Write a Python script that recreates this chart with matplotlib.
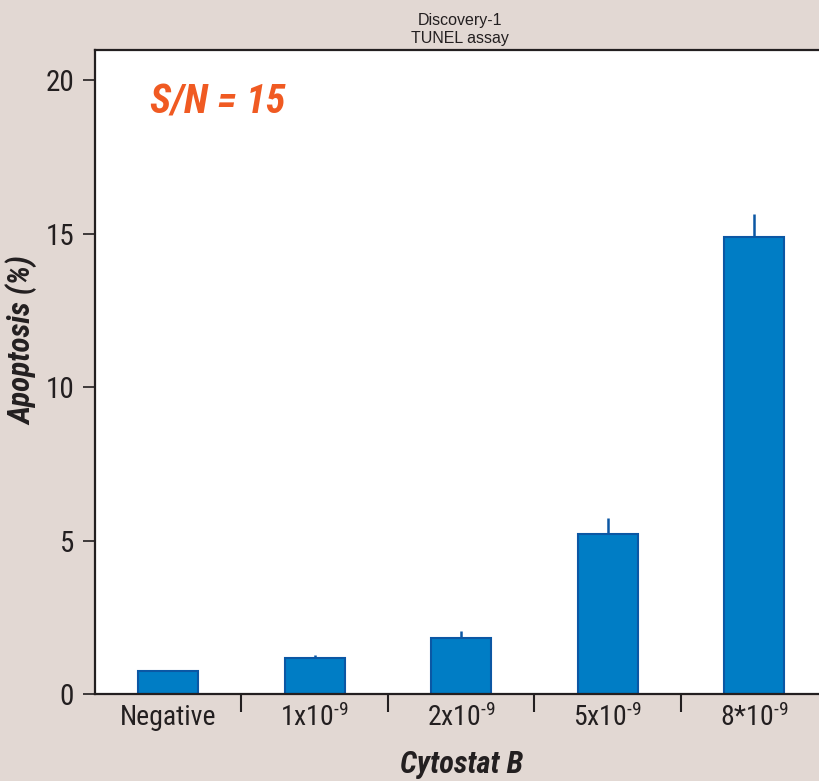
import matplotlib
matplotlib.use('Agg')
import matplotlib.pyplot as plt
from matplotlib import font_manager

# --- data ---
categories = ['Negative', r'1x10$^{\text{-9}}$', r'2x10$^{\text{-9}}$', r'5x10$^{\text{-9}}$', r'8*10$^{\text{-9}}$']
apoptosis = [0.75, 1.17, 1.82, 5.22, 14.88]
err_up = [0.0, 0.10, 0.23, 0.52, 0.75]
yticks = [0, 5, 10, 15, 20]

names = {f.name for f in font_manager.fontManager.ttflist}
narrow = 'Liberation Sans'
for cand in ['Liberation Sans Narrow', 'Roboto Condensed', 'Open Sans Condensed']:
    if cand in names:
        narrow = cand
        break
plt.rcParams['font.family'] = [narrow, 'DejaVu Sans']
plt.rcParams['mathtext.fontset'] = 'custom'
plt.rcParams['mathtext.rm'] = narrow
plt.rcParams['mathtext.it'] = narrow + ':italic'
plt.rcParams['mathtext.bf'] = narrow + ':bold'

bg = '#e2d8d3'
ink = '#231f20'
fig = plt.figure(figsize=(8.2, 7.81), dpi=100, facecolor=bg)
ax = fig.add_axes([0.1159, 0.1114, 0.893, 0.825])
ax.set_facecolor('white')

x = range(len(categories))
ax.bar(x, apoptosis, width=0.41, color='#007dc5', edgecolor='#0b57a4', linewidth=1.5,
       yerr=[[0] * len(err_up), err_up], error_kw=dict(ecolor='#0b57a4', elinewidth=1.8, capsize=0),
       zorder=2)

ax.set_xlim(-0.5, 4.5)
ax.set_ylim(0, 21)
ax.set_yticks(yticks)
ax.set_yticklabels([str(v) for v in yticks], fontsize=21, color=ink)
ax.tick_params(axis='y', direction='out', length=9, width=1.2, color=ink, pad=6)

# separators between categories, labels at centres
ax.set_xticks([0.5, 1.5, 2.5, 3.5])
ax.set_xticklabels([])
ax.tick_params(axis='x', which='major', direction='out', length=13, width=1.5, color=ink)
ax.set_xticks(list(x), minor=True)
ax.set_xticklabels(categories, minor=True, fontsize=20, color=ink)
ax.tick_params(axis='x', which='minor', length=0, pad=7)

for side in ['left', 'bottom', 'top']:
    ax.spines[side].set_color(ink)
    ax.spines[side].set_linewidth(1.6)
ax.spines['right'].set_visible(False)

ax.set_ylabel('Apoptosis (%)', fontsize=22.5, fontweight='bold', style='italic', color=ink)
ax.yaxis.set_label_coords(-0.077, 0.549)
ax.set_xlabel('Cytostat B', fontsize=22, fontweight='bold', style='italic', color=ink, labelpad=13)

fig.text(0.561, 0.974, 'Discovery-1', ha='center', va='center', fontsize=11.5, color=ink,
         family=['Liberation Sans', 'DejaVu Sans'])
fig.text(0.561, 0.951, 'TUNEL assay', ha='center', va='center', fontsize=11.5, color=ink,
         family=['Liberation Sans', 'DejaVu Sans'])
ax.text(0.075, 0.918, 'S/N = 15', transform=ax.transAxes, fontsize=29, fontweight='bold',
        style='italic', color='#f05a22', va='center', ha='left')

fig.savefig('out.png', dpi=100, facecolor=bg)
